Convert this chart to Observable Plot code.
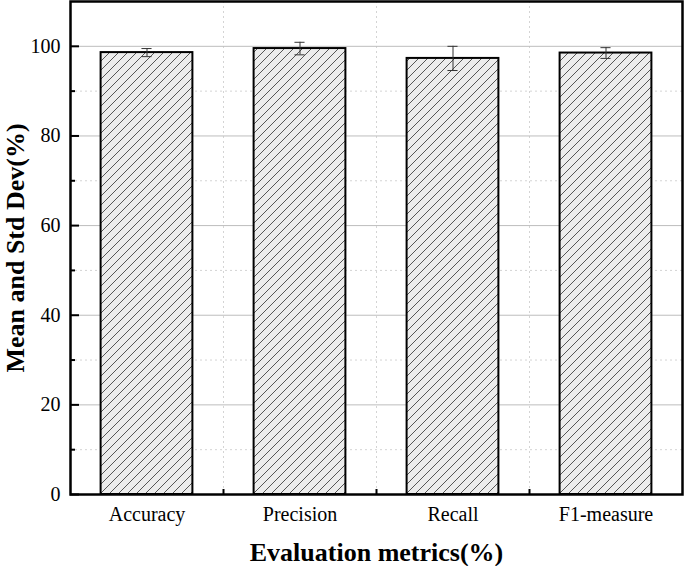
<!DOCTYPE html>
<html>
<head>
<meta charset="utf-8">
<script src="https://cdn.jsdelivr.net/npm/d3@7"></script>
<script src="https://cdn.jsdelivr.net/npm/@observablehq/plot@0.6"></script>
<style>
  html, body { margin: 0; padding: 0; background: #fff; }
</style>
</head>
<body>
<div id="chart"></div>
<script>
const categories = ["Accuracy", "Precision", "Recall", "F1-measure"];
const means = [98.6, 99.5, 97.3, 98.5];
const stds = [0.9, 1.4, 2.7, 1.2];
const yMajor = [0, 20, 40, 60, 80, 100];
const yMinor = [10, 30, 50, 70, 90];
const positions = [1, 2, 3, 4];
const bounds = [1.5, 2.5, 3.5];
const xTitle = "Evaluation metrics(%)";
const yTitle = "Mean and Std Dev(%)";

const data = categories.map((c, i) => ({c, pos: positions[i], m: means[i], s: stds[i]}));

const W = 685, H = 566, ML = 70, MR = 3, MT = 1, MB = 72;
const font = "'Liberation Serif', 'Times New Roman', serif";

const svg = Plot.plot({
  width: W, height: H,
  marginLeft: ML, marginRight: MR, marginTop: MT, marginBottom: MB,
  x: {domain: [0.5, 4.5], axis: null},
  y: {domain: [0, 110], axis: null},
  style: {fontFamily: font, background: "#fff", color: "#000"},
  marks: [
    Plot.ruleY(yMinor, {stroke: "#d4d4d4", strokeDasharray: "2,3"}),
    Plot.ruleY([110], {stroke: "#d4d4d4", strokeDasharray: "2,3"}),
    Plot.ruleX(bounds, {stroke: "#d4d4d4", strokeDasharray: "2,3"}),
    Plot.ruleY(yMajor.filter(v => v > 0), {stroke: "#bdbdbd", strokeWidth: 1}),
    Plot.rectY(data, {x1: d => d.pos - 0.3, x2: d => d.pos + 0.3, y1: 0, y2: "m",
      fill: "url(#hatch)", stroke: "#000", strokeWidth: 2}),
    Plot.ruleX(data, {x: "pos", y1: d => d.m - d.s, y2: d => d.m + d.s, stroke: "#333", strokeWidth: 1}),
    Plot.ruleY(data, {y: d => d.m + d.s, x1: d => d.pos - 0.033, x2: d => d.pos + 0.033, stroke: "#333", strokeWidth: 1}),
    Plot.ruleY(data, {y: d => d.m - d.s, x1: d => d.pos - 0.033, x2: d => d.pos + 0.033, stroke: "#333", strokeWidth: 1}),
    // inward ticks
    Plot.tickY(yMajor, {y: d => d, insetRight: W - ML - MR - 9, stroke: "#000", strokeWidth: 2}),
    Plot.tickY(yMinor, {y: d => d, insetRight: W - ML - MR - 5, stroke: "#000", strokeWidth: 2}),
    Plot.tickX(bounds, {x: d => d, insetTop: H - MT - MB - 5, stroke: "#000", strokeWidth: 2}),
    Plot.frame({stroke: "#000", strokeWidth: 2.5}),
    Plot.axisY(yMajor, {tickSize: 0, tickPadding: 10, fontSize: 20, label: null, fontFamily: font}),
    Plot.axisX(positions, {tickSize: 0, tickPadding: 12, fontSize: 20, label: null, fontFamily: font,
      tickFormat: d => categories[d - 1]}),
    Plot.text([xTitle], {frameAnchor: "bottom", textAnchor: "middle", lineAnchor: "middle", dy: 58,
      fontSize: 26, fontWeight: "bold", fontFamily: font}),
    Plot.text([yTitle], {frameAnchor: "left", textAnchor: "middle", lineAnchor: "middle", dx: -55, rotate: -90,
      fontSize: 26, fontWeight: "bold", fontFamily: font})
  ]
});

const defs = d3.select(svg).insert("defs", ":first-child");
const pat = defs.append("pattern")
  .attr("id", "hatch")
  .attr("patternUnits", "userSpaceOnUse")
  .attr("width", 9).attr("height", 9);
pat.append("rect").attr("width", 9).attr("height", 9).attr("fill", "#ececec");
pat.append("path")
  .attr("d", "M-1,1 L1,-1 M0,9 L9,0 M8,10 L10,8")
  .attr("stroke", "#555").attr("stroke-width", 1);

document.getElementById("chart").appendChild(svg);
</script>
</body>
</html>
